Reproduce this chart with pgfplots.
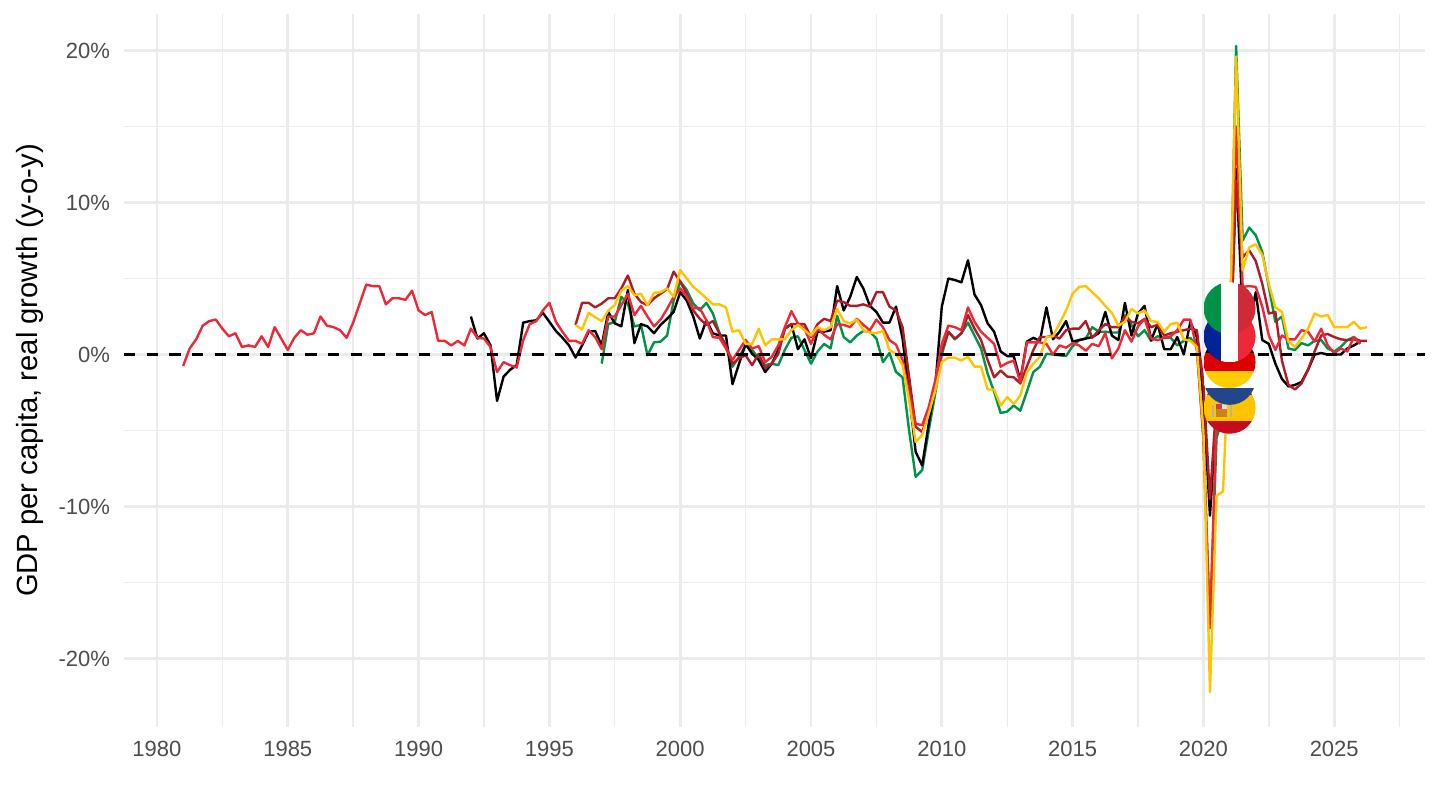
\documentclass[border=0pt]{standalone}
\usepackage{fontspec}
\setmainfont{Liberation Sans}
\usepackage{pgfplots}
\pgfplotsset{compat=1.18}

\definecolor{frred}{HTML}{ED2939}
\definecolor{frblue}{HTML}{002395}
\definecolor{itgreen}{HTML}{009246}
\definecolor{itred}{HTML}{CE2B37}
\definecolor{nlred}{HTML}{AE1C28}
\definecolor{nlblue}{HTML}{21468B}
\definecolor{esyellow}{HTML}{FFC400}
\definecolor{esred}{HTML}{C60B1E}
\definecolor{esbrown}{HTML}{C8841A}
\definecolor{dered}{HTML}{DD0000}
\definecolor{degold}{HTML}{FFCE00}
\definecolor{gridgrey}{HTML}{EBEBEB}
\definecolor{ticktext}{HTML}{4D4D4D}

% flag stripes, in bp around the centre of a circle of radius 13bp
\newcommand{\stripe}[5]{\pgfsetfillcolor{#5}%
  \pgfpathrectanglecorners{\pgfpoint{#1bp}{#2bp}}{\pgfpoint{#3bp}{#4bp}}\pgfusepath{fill}}
\newcommand{\flagclip}{\pgfpathcircle{\pgfpointorigin}{13bp}\pgfusepath{clip}}
\pgfdeclareplotmark{flagit}{\flagclip
  \stripe{-13}{-13}{-4.33}{13}{itgreen}\stripe{-4.33}{-13}{4.33}{13}{white}\stripe{4.33}{-13}{13}{13}{itred}}
\pgfdeclareplotmark{flagfr}{\flagclip
  \stripe{-13}{-13}{-4.33}{13}{frblue}\stripe{-4.33}{-13}{4.33}{13}{white}\stripe{4.33}{-13}{13}{13}{frred}}
\pgfdeclareplotmark{flagde}{\flagclip
  \stripe{-13}{4.33}{13}{13}{black}\stripe{-13}{-4.33}{13}{4.33}{dered}\stripe{-13}{-13}{13}{-4.33}{degold}}
\pgfdeclareplotmark{flagnl}{\flagclip
  \stripe{-13}{4.33}{13}{13}{nlred}\stripe{-13}{-4.33}{13}{4.33}{white}\stripe{-13}{-13}{13}{-4.33}{nlblue}}
\pgfdeclareplotmark{flages}{\flagclip
  \stripe{-13}{6.5}{13}{13}{esred}\stripe{-13}{-6.5}{13}{6.5}{esyellow}\stripe{-13}{-13}{13}{-6.5}{esred}%
  \stripe{-9}{-4.8}{-8}{1.6}{gray!60}\stripe{0.2}{-4.8}{1.2}{1.6}{gray!60}%
  \stripe{-6.7}{-4.8}{-1.2}{-0.8}{esbrown}\stripe{-6.7}{-0.8}{-4}{1.8}{esred!80}\stripe{-4}{-0.8}{-1.2}{1.8}{gray!25}}

\begin{document}
\begin{tikzpicture}
\begin{axis}[
  at={(0,0)}, anchor=south west,
  scale only axis,
  width=650.5bp, height=356.5bp,
  xmin=1978.74, xmax=2028.47,
  ymin=-24.5, ymax=22.4,
  axis line style={draw=none},
  tick style={draw=none},
  xtick={1980,1985,1990,1995,2000,2005,2010,2015,2020,2025},
  minor xtick={1982.5,1987.5,1992.5,1997.5,2002.5,2007.5,2012.5,2017.5,2022.5,2027.5},
  ytick={-20,-10,0,10,20},
  yticklabels={-20\%,-10\%,0\%,10\%,20\%},
  minor ytick={-15,-5,5,15},
  grid=both,
  major grid style={gridgrey, line width=1.4bp},
  minor grid style={gridgrey, line width=0.7bp},
  /pgf/number format/assume math mode=true,
  /pgf/number format/1000 sep={},
  tick label style={font=\fontsize{11bp}{13bp}\selectfont, text=ticktext},
  xticklabel style={yshift=-3.5bp},
  yticklabel style={xshift=-3.5bp},
  ylabel={GDP per capita, real growth (y-o-y)},
  every axis y label/.style={at={(rel axis cs:0,0.5)}, rotate=90, anchor=center, yshift=47.2bp,
    font=\fontsize{14.6bp}{16bp}\selectfont},
  line join=round,
]
% Italy
\addplot[color=itgreen, line width=1.2bp] coordinates {
(1997.00,-0.6)(1997.25,2.0)(1997.50,2.15)(1997.75,3.8)
(1998.00,3.35)(1998.25,1.85)(1998.50,1.95)(1998.75,-0.05)
(1999.00,0.8)(1999.25,0.85)(1999.50,1.25)(1999.75,3.55)
(2000.00,4.8)(2000.25,4.25)(2000.50,3.35)(2000.75,2.9)
(2001.00,3.4)(2001.25,2.7)(2001.50,1.4)(2001.75,0.5)
(2002.00,-0.8)(2002.25,-0.15)(2002.50,0.6)(2002.75,0.3)
(2003.00,-0.25)(2003.25,-0.7)(2003.50,-0.6)(2003.75,-0.7)
(2004.00,0.3)(2004.25,1.1)(2004.50,1.2)(2004.75,0.3)
(2005.00,-0.6)(2005.25,0.2)(2005.50,0.7)(2005.75,0.4)
(2006.00,2.55)(2006.25,1.15)(2006.50,0.8)(2006.75,1.25)
(2007.00,1.55)(2007.25,1.5)(2007.50,1.05)(2007.75,-0.5)
(2008.00,0.1)(2008.25,-1.15)(2008.50,-1.5)(2008.75,-5.0)
(2009.00,-8.05)(2009.25,-7.6)(2009.50,-5.0)(2009.75,-2.55)
(2010.00,0.0)(2010.25,1.5)(2010.50,1.0)(2010.75,1.4)
(2011.00,2.1)(2011.25,1.25)(2011.50,0.4)(2011.75,-1.25)
(2012.00,-2.45)(2012.25,-3.85)(2012.50,-3.75)(2012.75,-3.35)
(2013.00,-3.7)(2013.25,-2.45)(2013.50,-1.15)(2013.75,-0.8)
(2014.00,0.05)(2014.25,0)(2014.50,-0.05)(2014.75,-0.1)
(2015.00,0.55)(2015.25,0.95)(2015.50,1.05)(2015.75,1.8)
(2016.00,1.5)(2016.25,1.5)(2016.50,1.45)(2016.75,1.45)
(2017.00,2.6)(2017.25,1.95)(2017.50,1.2)(2017.75,1.6)
(2018.00,0.9)(2018.25,1.2)(2018.50,1.1)(2018.75,1.1)
(2019.00,0.6)(2019.25,0.9)(2019.50,1.1)(2019.75,0.5)
(2020.00,-5.5)(2020.25,-17.9)(2020.50,-5.5)(2020.75,-4)
(2021.00,0)(2021.25,20.3)(2021.50,7.5)(2021.75,8.35)
(2022.00,7.85)(2022.25,6.75)(2022.50,4.45)(2022.75,2.15)
(2023.00,2.5)(2023.25,0.4)(2023.50,0.3)(2023.75,0.75)
(2024.00,0.6)(2024.25,0.9)(2024.50,0.95)(2024.75,0.4)
(2025.00,0.2)(2025.25,0.5)(2025.50,0.95)(2025.75,1.15)
(2026.00,0.85)
};
% Germany
\addplot[color=black, line width=1.2bp] coordinates {
(1992.00,2.5)(1992.25,1.05)(1992.50,1.4)(1992.75,0.6)
(1993.00,-3.05)(1993.25,-1.45)(1993.50,-1.0)(1993.75,-0.7)
(1994.00,2.1)(1994.25,2.2)(1994.50,2.25)(1994.75,2.75)
(1995.00,2.15)(1995.25,1.55)(1995.50,1.1)(1995.75,0.6)
(1996.00,-0.2)(1996.25,0.6)(1996.50,1.5)(1996.75,1.55)
(1997.00,0.6)(1997.25,2.8)(1997.50,2.05)(1997.75,1.85)
(1998.00,4.25)(1998.25,0.75)(1998.50,2.0)(1998.75,1.85)
(1999.00,1.4)(1999.25,1.95)(1999.50,2.35)(1999.75,2.8)
(2000.00,4.1)(2000.25,3.55)(2000.50,2.5)(2000.75,1.05)
(2001.00,2.25)(2001.25,1.4)(2001.50,1.25)(2001.75,1.25)
(2002.00,-1.95)(2002.25,-0.6)(2002.50,0.7)(2002.75,0.05)
(2003.00,-0.35)(2003.25,-1.15)(2003.50,-0.6)(2003.75,0.3)
(2004.00,1.7)(2004.25,2.0)(2004.50,0.35)(2004.75,1.0)
(2005.00,-0.25)(2005.25,1.5)(2005.50,1.5)(2005.75,1.6)
(2006.00,4.5)(2006.25,2.9)(2006.50,3.8)(2006.75,5.1)
(2007.00,4.35)(2007.25,3.2)(2007.50,2.8)(2007.75,2.1)
(2008.00,2.1)(2008.25,3.15)(2008.50,1.05)(2008.75,-2.55)
(2009.00,-6.4)(2009.25,-7.3)(2009.50,-4.55)(2009.75,-2.1)
(2010.00,3.15)(2010.25,5.0)(2010.50,4.9)(2010.75,4.75)
(2011.00,6.2)(2011.25,3.95)(2011.50,3.25)(2011.75,2.05)
(2012.00,1.5)(2012.25,0.2)(2012.50,-0.1)(2012.75,-0.1)
(2013.00,-1.7)(2013.25,0.85)(2013.50,1.1)(2013.75,0.9)
(2014.00,3.1)(2014.25,1.0)(2014.50,1.5)(2014.75,2.2)
(2015.00,0.85)(2015.25,0.95)(2015.50,1.05)(2015.75,1.15)
(2016.00,1.4)(2016.25,2.8)(2016.50,1.25)(2016.75,0.95)
(2017.00,3.4)(2017.25,1.25)(2017.50,2.7)(2017.75,3.2)
(2018.00,0.95)(2018.25,2.0)(2018.50,0.35)(2018.75,0.35)
(2019.00,1.15)(2019.25,0)(2019.50,2.15)(2019.75,1.15)
(2020.00,-3)(2020.25,-10.6)(2020.50,-4)(2020.75,-2.5)
(2021.00,-2)(2021.25,12.2)(2021.50,2.5)(2021.75,2.0)
(2022.00,4.1)(2022.25,0.95)(2022.50,0.7)(2022.75,-0.6)
(2023.00,-1.6)(2023.25,-2.1)(2023.50,-2.0)(2023.75,-1.8)
(2024.00,-1.0)(2024.25,0)(2024.50,0.1)(2024.75,0)
(2025.00,0)(2025.25,0)(2025.50,0.4)(2025.75,0.6)
(2026.00,0.85)
};
% Netherlands
\addplot[color=nlred, line width=1.2bp] coordinates {
(1996.00,1.95)(1996.25,3.4)(1996.50,3.4)(1996.75,3.1)
(1997.00,3.35)(1997.25,3.7)(1997.50,3.7)(1997.75,4.35)
(1998.00,5.2)(1998.25,4.0)(1998.50,3.45)(1998.75,3.25)
(1999.00,3.7)(1999.25,4.0)(1999.50,4.3)(1999.75,5.45)
(2000.00,4.8)(2000.25,4.0)(2000.50,2.9)(2000.75,2.35)
(2001.00,1.95)(2001.25,2.2)(2001.50,1.4)(2001.75,0.6)
(2002.00,-0.6)(2002.25,-0.25)(2002.50,-0.05)(2002.75,-0.7)
(2003.00,0.05)(2003.25,-0.9)(2003.50,-0.6)(2003.75,0.05)
(2004.00,1.7)(2004.25,2.0)(2004.50,2.0)(2004.75,2.0)
(2005.00,1.15)(2005.25,2.0)(2005.50,2.35)(2005.75,2.2)
(2006.00,3.55)(2006.25,3.45)(2006.50,3.2)(2006.75,3.2)
(2007.00,3.3)(2007.25,3.15)(2007.50,4.1)(2007.75,4.1)
(2008.00,3.15)(2008.25,2.9)(2008.50,1.8)(2008.75,-1.45)
(2009.00,-4.75)(2009.25,-5.1)(2009.50,-3.9)(2009.75,-1.9)
(2010.00,0.2)(2010.25,1.5)(2010.50,1.05)(2010.75,1.4)
(2011.00,2.6)(2011.25,1.7)(2011.50,0.95)(2011.75,-0.35)
(2012.00,-1.5)(2012.25,-1.05)(2012.50,-1.45)(2012.75,-1.5)
(2013.00,-1.9)(2013.25,-0.8)(2013.50,0.3)(2013.75,1.15)
(2014.00,1.15)(2014.25,1.25)(2014.50,1.05)(2014.75,1.6)
(2015.00,1.7)(2015.25,1.7)(2015.50,2.2)(2015.75,1.1)
(2016.00,1.6)(2016.25,2.0)(2016.50,1.8)(2016.75,1.8)
(2017.00,2.5)(2017.25,2.15)(2017.50,2.05)(2017.75,2.35)
(2018.00,1.8)(2018.25,1.95)(2018.50,1.25)(2018.75,1.4)
(2019.00,1.5)(2019.25,1.6)(2019.50,1.7)(2019.75,1.6)
(2020.00,-1.9)(2020.25,-9.5)(2020.50,-3)(2020.75,-2)
(2021.00,-1.5)(2021.25,11.45)(2021.50,6.4)(2021.75,6.85)
(2022.00,6.15)(2022.25,4.65)(2022.50,2.7)(2022.75,2.8)
(2023.00,-0.4)(2023.25,-2.0)(2023.50,-2.3)(2023.75,-1.9)
(2024.00,-1.0)(2024.25,0.2)(2024.50,1.25)(2024.75,1.35)
(2025.00,1.15)(2025.25,1.0)(2025.50,0.95)(2025.75,1.0)
(2026.00,0.9)(2026.25,0.9)
};
% France
\addplot[color=frred, line width=1.2bp] coordinates {
(1981.00,-0.75)(1981.25,0.4)(1981.50,1.0)(1981.75,1.9)
(1982.00,2.2)(1982.25,2.3)(1982.50,1.7)(1982.75,1.2)
(1983.00,1.4)(1983.25,0.5)(1983.50,0.6)(1983.75,0.5)
(1984.00,1.2)(1984.25,0.5)(1984.50,1.8)(1984.75,1.05)
(1985.00,0.3)(1985.25,1.1)(1985.50,1.6)(1985.75,1.3)
(1986.00,1.4)(1986.25,2.5)(1986.50,1.9)(1986.75,1.8)
(1987.00,1.6)(1987.25,1.1)(1987.50,2.1)(1987.75,3.35)
(1988.00,4.6)(1988.25,4.5)(1988.50,4.5)(1988.75,3.3)
(1989.00,3.7)(1989.25,3.7)(1989.50,3.6)(1989.75,4.2)
(1990.00,2.9)(1990.25,2.6)(1990.50,2.8)(1990.75,0.9)
(1991.00,0.9)(1991.25,0.6)(1991.50,0.9)(1991.75,0.6)
(1992.00,1.7)(1992.25,1.1)(1992.50,1.05)(1992.75,0.5)
(1993.00,-1.15)(1993.25,-0.5)(1993.50,-0.7)(1993.75,-0.85)
(1994.00,0.95)(1994.25,2.0)(1994.50,2.2)(1994.75,2.9)
(1995.00,3.4)(1995.25,2.15)(1995.50,1.5)(1995.75,0.9)
(1996.00,0.9)(1996.25,0.7)(1996.50,1.6)(1996.75,1.15)
(1997.00,0.35)(1997.25,2.5)(1997.50,2.5)(1997.75,3.25)
(1998.00,4.0)(1998.25,2.6)(1998.50,3.2)(1998.75,2.5)
(1999.00,1.85)(1999.25,2.3)(1999.50,3.0)(1999.75,3.8)
(2000.00,4.35)(2000.25,3.8)(2000.50,3.05)(2000.75,3.05)
(2001.00,2.25)(2001.25,1.15)(2001.50,1.1)(2001.75,0.4)
(2002.00,-0.35)(2002.25,0.3)(2002.50,0.95)(2002.75,0.4)
(2003.00,0.55)(2003.25,-0.5)(2003.50,-0.15)(2003.75,0.6)
(2004.00,1.8)(2004.25,2.85)(2004.50,2.05)(2004.75,1.7)
(2005.00,0.7)(2005.25,1.7)(2005.50,1.3)(2005.75,1.0)
(2006.00,2.0)(2006.25,1.95)(2006.50,1.8)(2006.75,2.35)
(2007.00,1.95)(2007.25,1.6)(2007.50,2.3)(2007.75,1.8)
(2008.00,0.95)(2008.25,0.65)(2008.50,-0.35)(2008.75,-2.55)
(2009.00,-4.55)(2009.25,-4.65)(2009.50,-3.45)(2009.75,-1.7)
(2010.00,0.7)(2010.25,1.9)(2010.50,1.8)(2010.75,1.6)
(2011.00,3.1)(2011.25,2.15)(2011.50,1.5)(2011.75,1.1)
(2012.00,0.7)(2012.25,-0.8)(2012.50,-0.55)(2012.75,-0.4)
(2013.00,-1.8)(2013.25,0.8)(2013.50,0.8)(2013.75,0.8)
(2014.00,0.7)(2014.25,0)(2014.50,0.6)(2014.75,0.45)
(2015.00,0.75)(2015.25,0.6)(2015.50,0.25)(2015.75,0.7)
(2016.00,0.55)(2016.25,1.4)(2016.50,-0.25)(2016.75,0.4)
(2017.00,1.6)(2017.25,0.85)(2017.50,1.85)(2017.75,2.35)
(2018.00,1.05)(2018.25,0.95)(2018.50,1.1)(2018.75,1.2)
(2019.00,1.6)(2019.25,2.3)(2019.50,2.3)(2019.75,0.3)
(2020.00,-5.5)(2020.25,-18)(2020.50,-4)(2020.75,-5)
(2021.00,1.5)(2021.25,15)(2021.50,4.45)(2021.75,4.5)
(2022.00,4.45)(2022.25,3.15)(2022.50,1.25)(2022.75,0.3)
(2023.00,1.25)(2023.25,1.0)(2023.50,1.0)(2023.75,1.6)
(2024.00,1.5)(2024.25,0.85)(2024.50,1.7)(2024.75,0.6)
(2025.00,0.1)(2025.25,0.4)(2025.50,0.2)(2025.75,1.15)
(2026.00,0.7)
};
% Spain
\addplot[color=esyellow, line width=1.2bp] coordinates {
(1996.00,1.95)(1996.25,1.65)(1996.50,2.75)(1996.75,2.45)
(1997.00,2.2)(1997.25,2.9)(1997.50,3.25)(1997.75,4.2)
(1998.00,4.5)(1998.25,3.9)(1998.50,4.0)(1998.75,3.25)
(1999.00,4.05)(1999.25,4.1)(1999.50,4.35)(1999.75,3.8)
(2000.00,5.55)(2000.25,5.0)(2000.50,4.45)(2000.75,4.1)
(2001.00,3.7)(2001.25,3.3)(2001.50,3.3)(2001.75,3.1)
(2002.00,1.5)(2002.25,1.6)(2002.50,0.7)(2002.75,0.7)
(2003.00,1.7)(2003.25,0.6)(2003.50,1.0)(2003.75,1.0)
(2004.00,1.0)(2004.25,1.6)(2004.50,1.95)(2004.75,1.6)
(2005.00,1.25)(2005.25,1.8)(2005.50,1.6)(2005.75,1.8)
(2006.00,3.0)(2006.25,2.2)(2006.50,2.05)(2006.75,2.3)
(2007.00,1.6)(2007.25,1.45)(2007.50,1.4)(2007.75,1.55)
(2008.00,0.3)(2008.25,0.05)(2008.50,-0.7)(2008.75,-3.0)
(2009.00,-5.75)(2009.25,-5.3)(2009.50,-3.9)(2009.75,-2.35)
(2010.00,-0.5)(2010.25,-0.2)(2010.50,-0.2)(2010.75,-0.4)
(2011.00,-0.15)(2011.25,-0.8)(2011.50,-0.8)(2011.75,-2.3)
(2012.00,-2.3)(2012.25,-3.35)(2012.50,-2.8)(2012.75,-3.25)
(2013.00,-2.7)(2013.25,-1.15)(2013.50,-0.6)(2013.75,-0.15)
(2014.00,1.15)(2014.25,1.2)(2014.50,2.05)(2014.75,2.9)
(2015.00,4.0)(2015.25,4.45)(2015.50,4.5)(2015.75,4.1)
(2016.00,3.7)(2016.25,3.2)(2016.50,2.75)(2016.75,1.9)
(2017.00,2.15)(2017.25,3.0)(2017.50,2.7)(2017.75,2.9)
(2018.00,2.2)(2018.25,2.15)(2018.50,1.5)(2018.75,2.0)
(2019.00,2.1)(2019.25,1.0)(2019.50,0.9)(2019.75,0.5)
(2020.00,-5)(2020.25,-22.2)(2020.50,-9.3)(2020.75,-9.0)
(2021.00,1)(2021.25,19.6)(2021.50,5.55)(2021.75,7.05)
(2022.00,7.25)(2022.25,6.55)(2022.50,4.65)(2022.75,3.1)
(2023.00,2.8)(2023.25,0.85)(2023.50,0.5)(2023.75,1.05)
(2024.00,1.7)(2024.25,2.7)(2024.50,2.5)(2024.75,2.6)
(2025.00,1.8)(2025.25,1.8)(2025.50,1.8)(2025.75,2.15)
(2026.00,1.7)(2026.25,1.8)
};
% flags, drawn last on top of the lines, Italy uppermost
\addplot[only marks, mark=flages] coordinates {(2021.0,-3.5)};
\addplot[only marks, mark=flagnl] coordinates {(2021.0,-1.6)};
\addplot[only marks, mark=flagde] coordinates {(2021.0,-0.5)};
\addplot[only marks, mark=flagfr] coordinates {(2021.0,1.2)};
\addplot[only marks, mark=flagit] coordinates {(2021.0,3.05)};
% zero line
\addplot[color=black, line width=1.25bp, dash pattern=on 5.67bp off 5.67bp] coordinates {(1978.74,0)(2028.47,0)};
\end{axis}
\useasboundingbox (-62bp,-41.5bp) rectangle (658bp,363.5bp);
\end{tikzpicture}
\end{document}
